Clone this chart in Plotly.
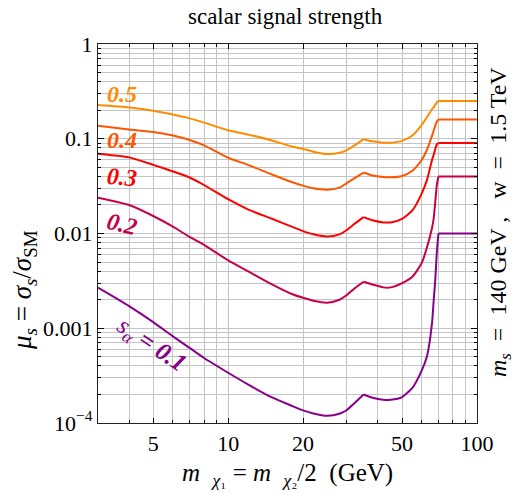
import plotly.graph_objects as go

# ---- data ----
mass = [3, 4, 5, 6, 7, 8, 10, 12, 15, 18, 20, 22, 25, 28, 30, 32, 35, 38, 42, 45,
        50, 55, 60, 63, 66, 67, 68, 69, 70, 100]

mu_05 = [0.227, 0.214, 0.198, 0.180, 0.164, 0.148, 0.123, 0.111, 0.096, 0.083, 0.078,
         0.073, 0.069, 0.071, 0.076, 0.084, 0.099, 0.094, 0.091, 0.091, 0.095, 0.108,
         0.140, 0.170, 0.205, 0.216, 0.228, 0.243, 0.25, 0.25]
mu_04 = [0.137, 0.125, 0.118, 0.108, 0.097, 0.085, 0.063, 0.053, 0.042, 0.035, 0.032,
         0.030, 0.029, 0.0305, 0.034, 0.038, 0.044, 0.041, 0.0395, 0.0392, 0.0405, 0.046,
         0.060, 0.077, 0.108, 0.122, 0.138, 0.152, 0.16, 0.16]
mu_03 = [0.0695, 0.0636, 0.053, 0.0452, 0.039, 0.0325, 0.023, 0.018, 0.0143, 0.0118,
         0.0106, 0.0098, 0.0093, 0.0098, 0.0109, 0.0125, 0.0149, 0.0138, 0.0131, 0.0131,
         0.0143, 0.0175, 0.0265, 0.037, 0.060, 0.068, 0.078, 0.088, 0.09, 0.09]
mu_02 = [0.0239, 0.020, 0.0153, 0.0118, 0.0092, 0.0076, 0.0052, 0.0040, 0.0029, 0.0023,
         0.0021, 0.00195, 0.00186, 0.0020, 0.00224, 0.0026, 0.0031, 0.0029, 0.0027,
         0.0027, 0.0030, 0.0035, 0.0049, 0.0072, 0.0115, 0.0145, 0.022, 0.033, 0.04, 0.04]
mu_01 = [0.00268, 0.00171, 0.00116, 0.00082, 0.00062, 0.000485, 0.000339, 0.000256,
         0.000186, 0.000152, 0.000136, 0.000126, 0.000119, 0.000125, 0.000137, 0.00016,
         0.0002, 0.000185, 0.000176, 0.000176, 0.000188, 0.000235, 0.00036, 0.00051,
         0.00115, 0.0020, 0.0033, 0.0065, 0.01, 0.01]

series = [mu_05, mu_04, mu_03, mu_02, mu_01]
colors = ["#FF8C00", "#FF5500", "#FF0000", "#C8004A", "#880088"]

x_major = [5, 10, 20, 50, 100]
x_minor = [3, 4, 6, 7, 8, 9, 30, 40, 60, 70, 80, 90]
y_major = [1e-4, 1e-3, 1e-2, 1e-1, 1]
y_major_text = ["10<sup>\u22124</sup>", "0.001", "0.01", "0.1", "1"]
y_minor = [k * 10.0 ** e for e in (-4, -3, -2, -1) for k in range(2, 10)]

FONT = "Liberation Serif"

# segment the curves at the thresholds (35 GeV kink, 70 GeV plateau)
i35 = mass.index(35)
i70 = mass.index(70)
segments = [(0, i35 + 1, "spline"), (i35, i70 + 1, "spline"), (i70, len(mass), "linear")]

fig = go.Figure()
for ys, c in zip(series, colors):
    for a, b, shape in segments:
        fig.add_trace(go.Scatter(x=mass[a:b], y=ys[a:b], mode="lines",
                                 line=dict(color=c, width=2, shape=shape, smoothing=0.6),
                                 showlegend=False, hoverinfo="skip"))

L, R, T, B = 98, 477, 44, 423
W, H = 516, 493
PW, PH = R - L, B - T


def px(xp, yp):
    return (xp - L) / PW, (B - yp) / PH


grid = "#c4c4c4"
fig.update_layout(
    width=W, height=H,
    margin=dict(l=L, r=W - R, t=T, b=H - B),
    paper_bgcolor="white", plot_bgcolor="white",
    font=dict(family=FONT, size=22, color="black"),
    xaxis=dict(type="log", range=[0.47712, 2],
               tickmode="array", tickvals=x_major,
               ticktext=[str(v) for v in x_major],
               showgrid=True, gridcolor=grid, gridwidth=1.3,
               ticks="inside", ticklen=5, tickcolor="black",
               showline=True, linecolor="#222", linewidth=1.2, mirror="allticks",
               minor=dict(tickmode="array", tickvals=x_minor, showgrid=True,
                          gridcolor=grid, gridwidth=1.3, ticks="inside",
                          ticklen=3, tickcolor="black"),
               tickfont=dict(family=FONT, size=22), zeroline=False),
    yaxis=dict(type="log", range=[-4, 0],
               tickmode="array", tickvals=y_major, ticktext=y_major_text,
               showgrid=True, gridcolor=grid, gridwidth=1.3,
               ticks="inside", ticklen=6, tickcolor="black",
               showline=True, linecolor="#222", linewidth=1.2, mirror="allticks",
               minor=dict(tickmode="array", tickvals=y_minor, showgrid=True,
                          gridcolor=grid, gridwidth=1.3, ticks="inside",
                          ticklen=3, tickcolor="black"),
               tickfont=dict(family=FONT, size=22), zeroline=False),
)

ann = []


def add(text, xp, yp, size=20, color="black", angle=0):
    x, y = px(xp, yp)
    ann.append(dict(text=text, x=x, y=y, xref="paper", yref="paper",
                    xanchor="center", yanchor="middle", showarrow=False,
                    textangle=angle, font=dict(family=FONT, size=size, color=color)))


add("scalar signal strength", 285, 17, size=23)
add("<i>m</i>  <sub><i>\u03c7</i>\u2081</sub> = <i>m</i>  <sub><i>\u03c7</i>\u2082</sub>/2  (GeV)",
    287, 474, size=25)
add("<i>\u03bc<sub>s</sub></i> = <i>\u03c3<sub>s</sub></i>/<i>\u03c3</i><sub>SM</sub>",
    24, 290, size=27, angle=-90)
add("<i>m</i><sub><i>s</i></sub>  =  140 GeV ,   w  =  1.5 TeV", 500, 222, size=24, angle=-90)

add("<b><i>0.5</i></b>", 122, 94, size=24, color=colors[0])
add("<b><i>0.4</i></b>", 122, 140, size=24, color=colors[1])
add("<b><i>0.3</i></b>", 122, 177, size=24, color=colors[2], angle=5)
add("<b><i>0.2</i></b>", 122, 224, size=24, color=colors[3], angle=14)
add("<i>s<sub>\u03b1</sub></i> <b>= <i>0.1</i></b>", 151, 345, size=25,
    color=colors[4], angle=34)

fig.update_layout(annotations=ann)
fig.write_html("out.html", config={"displayModeBar": False},
               post_script="document.body.style.margin='0';document.body.style.padding='0';")
